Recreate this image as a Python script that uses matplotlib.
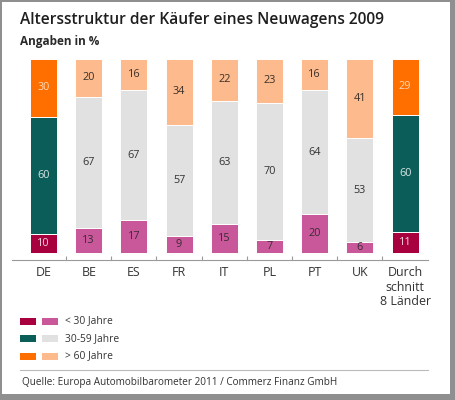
import numpy as np
import matplotlib
matplotlib.use("Agg")
import matplotlib.pyplot as plt
from matplotlib.patches import Rectangle
from matplotlib.lines import Line2D

plt.rcParams['font.family'] = ['Open Sans', 'DejaVu Sans']

# data
countries = ['DE', 'BE', 'ES', 'FR', 'IT', 'PL', 'PT', 'UK', 'Durch\nschnitt\n8 Länder']
young = [10, 13, 17, 9, 15, 7, 20, 6, 11]     # < 30 Jahre
middle = [60, 67, 67, 57, 63, 70, 64, 53, 60]  # 30-59 Jahre
old = [30, 20, 16, 34, 22, 23, 16, 41, 29]     # > 60 Jahre
legend_labels = ['< 30 Jahre', '30-59 Jahre', '> 60 Jahre']

# colours: dark set for DE and average, light set for the others
dark = ['#a8003f', '#0b5d59', '#ff6f00']
light = ['#c9589b', '#e1e1e1', '#fdba8d']
dark_txt = ['#f4d6de', '#d6e6e4', '#ffd9b8']
light_txt = ['#3a2a33', '#333333', '#3a3028']
dark_bars = {0, 8}

W, H = 456, 400
fig = plt.figure(figsize=(W / 100, H / 100), dpi=100)
fig.patch.set_facecolor('#8f8f8f')
fig.patches.append(Rectangle((2 / W, 6 / H), 448 / W, 392 / H, transform=fig.transFigure,
                             facecolor='white', edgecolor='none', zorder=-5))

def fx(px):
    return px / W

def fy(py):
    return 1 - py / H

ax = fig.add_axes([fx(12), fy(259.5), 416 / W, 201 / H])
ax.set_zorder(2)
ax.set_facecolor('none')
x = np.arange(len(countries))
series = [young, middle, old]
bottom = np.zeros(len(countries))
for k, vals in enumerate(series):
    vals = np.array(vals)
    cols = [dark[k] if i in dark_bars else light[k] for i in x]
    ax.bar(x, vals, bottom=bottom, width=0.6, color=cols, edgecolor='white', linewidth=0.7)
    for i in x:
        tc = dark_txt[k] if i in dark_bars else light_txt[k]
        ax.text(i, bottom[i] + vals[i] / 2, str(vals[i]), ha='center', va='center',
                fontsize=7.8, color=tc)
    bottom += vals

ax.set_xlim(-0.697, 8.507)
ax.set_ylim(-3.08, 100)
for s in ['top', 'left', 'right']:
    ax.spines[s].set_visible(False)
ax.spines['bottom'].set_color('#9a9a9a')
ax.spines['bottom'].set_linewidth(0.8)
ax.set_yticks([])
ax.set_xticks(x)
ax.set_xticklabels(countries, fontsize=8.9, color='#333333', linespacing=1.12)
ax.set_xticks(x[:-1] + 0.5, minor=True)
ax.tick_params(axis='x', which='major', length=0, pad=5)
ax.tick_params(axis='x', which='minor', direction='in', length=3, color='#9a9a9a', width=0.8)

fig.text(fx(20), fy(20), 'Altersstruktur der Käufer eines Neuwagens 2009', fontsize=11.2,
         fontweight='semibold', color='#1e1e1e', va='center', ha='left')
fig.text(fx(20), fy(42), 'Angaben in %', fontsize=8.5, fontweight='bold',
         color='#2a2a2a', va='center', ha='left')

# legend
rows_y = [321, 338.5, 356]
for k, lab in enumerate(legend_labels):
    y = rows_y[k]
    fig.patches.append(Rectangle((fx(20), fy(y + 3.5)), 16 / W, 7 / H, transform=fig.transFigure,
                                 facecolor=dark[k], edgecolor='none'))
    fig.patches.append(Rectangle((fx(42), fy(y + 3.5)), 16 / W, 7 / H, transform=fig.transFigure,
                                 facecolor=light[k], edgecolor='none'))
    fig.text(fx(65), fy(y), lab, fontsize=7.4, color='#333333', va='center', ha='left')

fig.lines.append(Line2D([fx(20), fx(428)], [fy(370), fy(370)], transform=fig.transFigure,
                        color='#bbbbbb', linewidth=0.8))
fig.text(fx(22), fy(383), 'Quelle: Europa Automobilbarometer 2011 / Commerz Finanz GmbH',
         fontsize=7.2, color='#333333', va='center', ha='left')

fig.savefig('out.png', dpi=100, facecolor=fig.get_facecolor())
